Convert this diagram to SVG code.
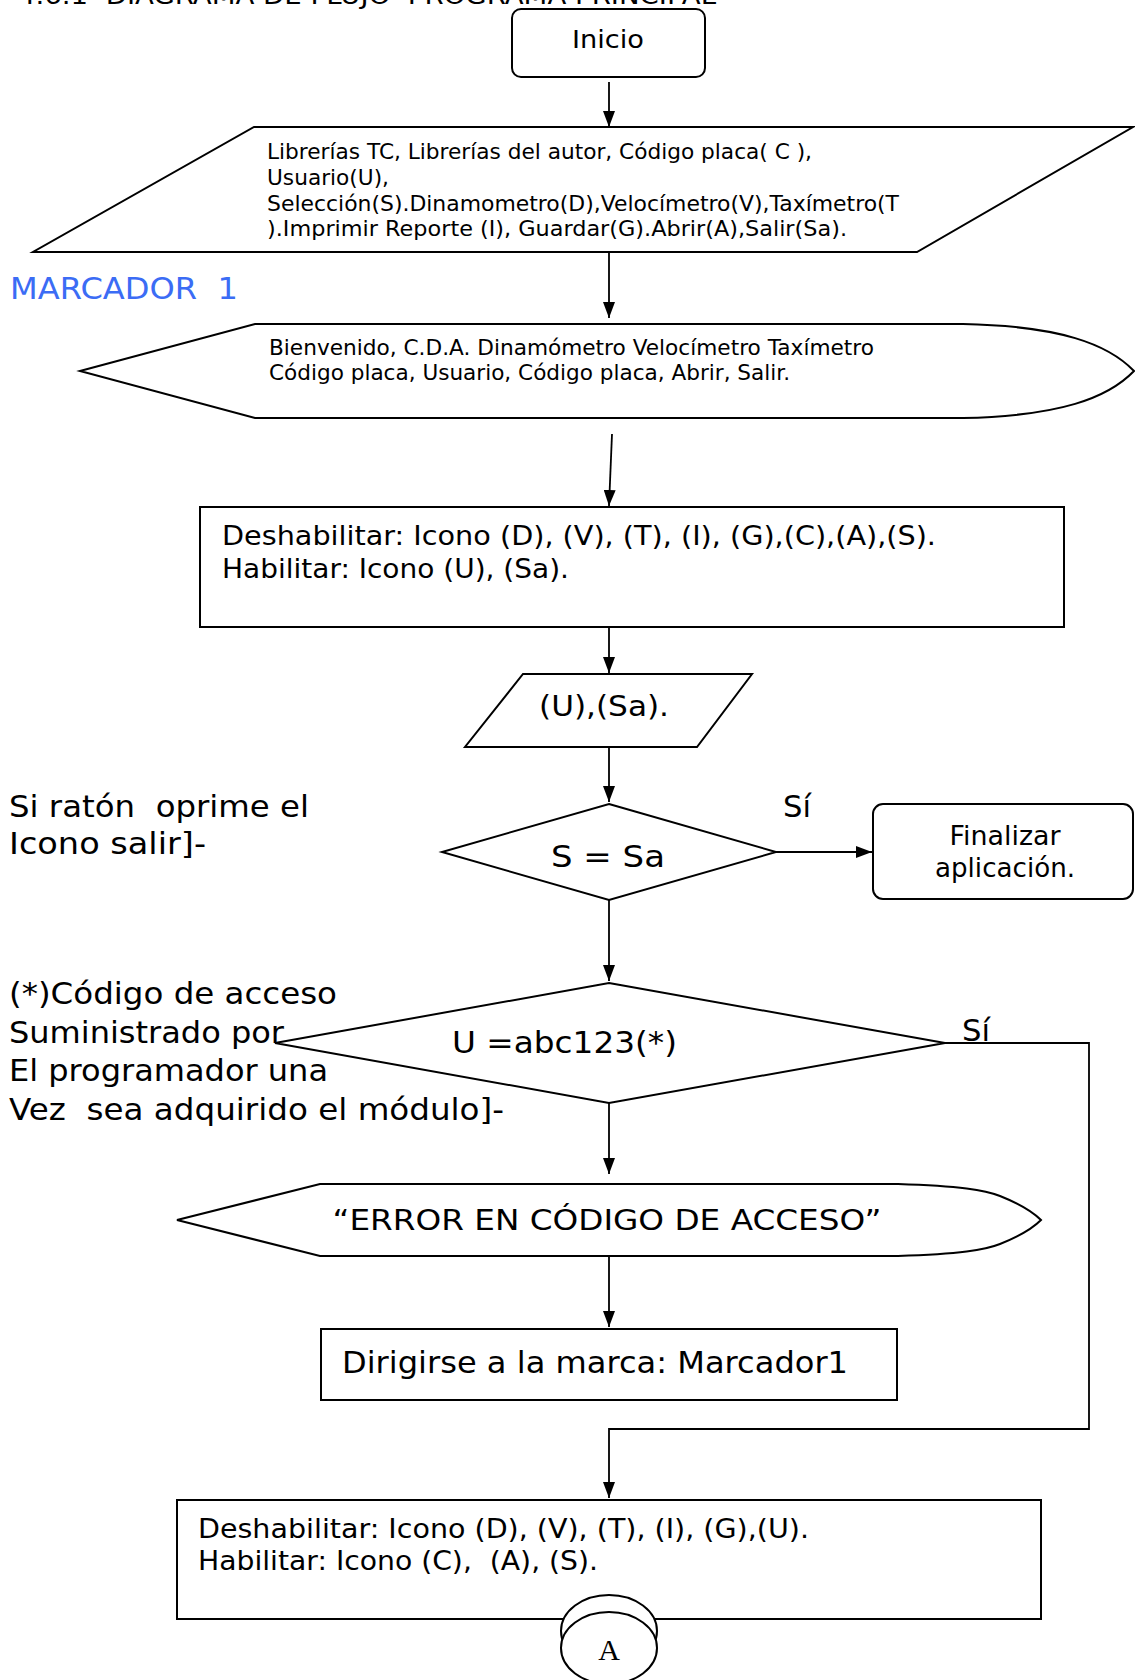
<svg xmlns="http://www.w3.org/2000/svg" width="1135" height="1680" viewBox="0 0 1135 1680">
  <style>
    .shape { fill: #ffffff; stroke: #000000; stroke-width: 2; }
    .line { fill: none; stroke: #000000; stroke-width: 1.8; }
    .t { font-family: "DejaVu Sans", Verdana, sans-serif; fill: #000000; }
    .serif { font-family: "Liberation Serif", "Times New Roman", serif; fill: #000000; }
    .mark { font-family: "DejaVu Sans", Verdana, sans-serif; fill: #3b6cf5; }
  </style>
  <defs>
    <marker id="arrow" markerUnits="userSpaceOnUse" markerWidth="16" markerHeight="12" refX="16" refY="6" orient="auto">
      <path d="M0,0 L16,6 L0,12 Z" fill="#000000"/>
    </marker>
  </defs>

  <rect width="1135" height="1680" fill="#ffffff"/>

  <!-- heading, partly above the page edge -->
  <text class="t" x="18" y="4" font-size="24" textLength="698" lengthAdjust="spacingAndGlyphs" xml:space="preserve">4.6.1  DIAGRAMA DE FLUJO  PROGRAMA PRINCIPAL</text>

  <!-- side notes -->
  <text class="mark" x="10" y="299" font-size="30" textLength="228" lengthAdjust="spacingAndGlyphs" xml:space="preserve">MARCADOR  1</text>
  <g id="note-salir">
    <text class="t" x="9" y="817" font-size="30" textLength="300" lengthAdjust="spacingAndGlyphs" xml:space="preserve">Si ratón  oprime el</text>
    <text class="t" x="9" y="854" font-size="30" textLength="197" lengthAdjust="spacingAndGlyphs">Icono salir]-</text>
  </g>
  <g id="note-codigo">
    <text class="t" x="9" y="1004" font-size="30" textLength="328" lengthAdjust="spacingAndGlyphs">(*)Código de acceso</text>
    <text class="t" x="9" y="1043" font-size="30" textLength="275" lengthAdjust="spacingAndGlyphs">Suministrado por</text>
    <text class="t" x="9" y="1081" font-size="30" textLength="319" lengthAdjust="spacingAndGlyphs">El programador una</text>
    <text class="t" x="9" y="1120" font-size="30" textLength="495" lengthAdjust="spacingAndGlyphs" xml:space="preserve">Vez  sea adquirido el módulo]-</text>
  </g>

  <!-- connectors -->
  <g id="connectors">
    <line class="line" x1="609" y1="82" x2="609" y2="127" marker-end="url(#arrow)"/>
    <line class="line" x1="609" y1="243" x2="609" y2="318" marker-end="url(#arrow)"/>
    <line class="line" x1="612" y1="434" x2="609" y2="506" marker-end="url(#arrow)"/>
    <line class="line" x1="609" y1="627" x2="609" y2="673" marker-end="url(#arrow)"/>
    <line class="line" x1="609" y1="747" x2="609" y2="802" marker-end="url(#arrow)"/>
    <line class="line" x1="776" y1="852" x2="872" y2="852" stroke-width="2.6" marker-end="url(#arrow)"/>
    <line class="line" x1="609" y1="900" x2="609" y2="981" marker-end="url(#arrow)"/>
    <line class="line" x1="609" y1="1103" x2="609" y2="1174" marker-end="url(#arrow)"/>
    <line class="line" x1="609" y1="1256" x2="609" y2="1327" marker-end="url(#arrow)"/>
    <polyline class="line" points="945,1043 1089,1043 1089,1429 609,1429 609,1498" marker-end="url(#arrow)"/>
    <path d="M602,1580 L615,1580 L608.5,1595 Z" fill="#000000"/>
  </g>

  <!-- nodes -->
  <g id="inicio">
    <rect class="shape" x="512" y="9" width="193" height="68" rx="9"/>
    <text class="t" x="608" y="48" font-size="25" text-anchor="middle" textLength="72" lengthAdjust="spacingAndGlyphs">Inicio</text>
  </g>

  <g id="declaraciones">
    <polygon class="shape" points="254,127 1133,127 917,252 33,252"/>
    <text class="t" x="267" y="159" font-size="21" textLength="545" lengthAdjust="spacingAndGlyphs">Librerías TC, Librerías del autor, Código placa( C ),</text>
    <text class="t" x="267" y="185" font-size="21" textLength="122" lengthAdjust="spacingAndGlyphs">Usuario(U),</text>
    <text class="t" x="267" y="211" font-size="21" textLength="632" lengthAdjust="spacingAndGlyphs">Selección(S).Dinamometro(D),Velocímetro(V),Taxímetro(T</text>
    <text class="t" x="267" y="236" font-size="21" textLength="580" lengthAdjust="spacingAndGlyphs">).Imprimir Reporte (I), Guardar(G).Abrir(A),Salir(Sa).</text>
  </g>

  <g id="bienvenida">
    <path class="shape" d="M80,371 L255,324 L963,324 C1060,326 1108,344 1134,371 C1108,398 1060,416 963,418 L255,418 Z"/>
    <text class="t" x="269" y="355" font-size="21" textLength="605" lengthAdjust="spacingAndGlyphs">Bienvenido, C.D.A. Dinamómetro Velocímetro Taxímetro</text>
    <text class="t" x="269" y="380" font-size="21" textLength="521" lengthAdjust="spacingAndGlyphs">Código placa, Usuario, Código placa, Abrir, Salir.</text>
  </g>

  <g id="estado-inicial">
    <rect class="shape" x="200" y="507" width="864" height="120"/>
    <text class="t" x="222" y="545" font-size="26" textLength="714" lengthAdjust="spacingAndGlyphs">Deshabilitar: Icono (D), (V), (T), (I), (G),(C),(A),(S).</text>
    <text class="t" x="222" y="578" font-size="26" textLength="347" lengthAdjust="spacingAndGlyphs">Habilitar: Icono (U), (Sa).</text>
  </g>

  <g id="entrada-usuario">
    <polygon class="shape" points="523,674 752,674 697,747 465,747"/>
    <text class="t" x="604" y="716" font-size="28" text-anchor="middle" textLength="130" lengthAdjust="spacingAndGlyphs">(U),(Sa).</text>
  </g>

  <g id="decision-salir">
    <polygon class="shape" points="609,804 776,852 609,900 442,852"/>
    <text class="t" x="608" y="867" font-size="30" text-anchor="middle" textLength="114" lengthAdjust="spacingAndGlyphs">S = Sa</text>
    <text class="t" x="783" y="817" font-size="30" textLength="28" lengthAdjust="spacingAndGlyphs">Sí</text>
  </g>

  <g id="finalizar">
    <rect class="shape" x="873" y="804" width="260" height="95" rx="10"/>
    <text class="t" x="1005" y="845" font-size="26" text-anchor="middle" textLength="111" lengthAdjust="spacingAndGlyphs">Finalizar</text>
    <text class="t" x="1005" y="877" font-size="26" text-anchor="middle" textLength="140" lengthAdjust="spacingAndGlyphs">aplicación.</text>
  </g>

  <g id="decision-codigo">
    <polygon class="shape" points="609,983 945,1043 609,1103 275,1043"/>
    <text class="t" x="452" y="1053" font-size="30" textLength="225" lengthAdjust="spacingAndGlyphs">U =abc123(*)</text>
    <text class="t" x="962" y="1041" font-size="30" textLength="28" lengthAdjust="spacingAndGlyphs">Sí</text>
  </g>

  <g id="mensaje-error">
    <path class="shape" d="M177,1220 L320,1184 L898,1184 C960,1186 985,1190 1000,1196 C1020,1204 1033,1212 1041,1220 C1033,1228 1020,1236 1000,1244 C985,1250 960,1254 898,1256 L320,1256 Z"/>
    <text class="t" x="607" y="1230" font-size="29" text-anchor="middle" textLength="549" lengthAdjust="spacingAndGlyphs">“ERROR EN CÓDIGO DE ACCESO”</text>
  </g>

  <g id="ir-marcador">
    <rect class="shape" x="321" y="1329" width="576" height="71"/>
    <text class="t" x="342" y="1373" font-size="30" textLength="506" lengthAdjust="spacingAndGlyphs">Dirigirse a la marca: Marcador1</text>
  </g>

  <g id="estado-acceso">
    <rect class="shape" x="177" y="1500" width="864" height="119"/>
    <text class="t" x="198" y="1538" font-size="26" textLength="611" lengthAdjust="spacingAndGlyphs">Deshabilitar: Icono (D), (V), (T), (I), (G),(U).</text>
    <text class="t" x="198" y="1570" font-size="26" textLength="400" lengthAdjust="spacingAndGlyphs" xml:space="preserve">Habilitar: Icono (C),  (A), (S).</text>
  </g>

  <g id="conector-a">
    <ellipse class="shape" cx="609" cy="1631" rx="48" ry="36"/>
    <ellipse class="shape" cx="609" cy="1648" rx="48" ry="36"/>
    <text class="serif" x="609" y="1660" font-size="30" text-anchor="middle">A</text>
  </g>
</svg>
